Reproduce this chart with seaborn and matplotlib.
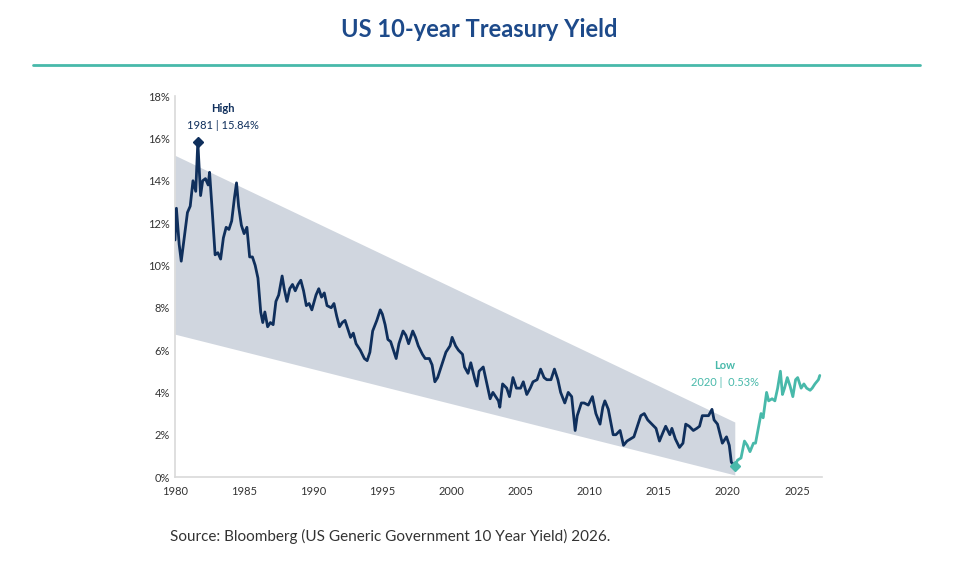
import numpy as np
import pandas as pd
import matplotlib
matplotlib.use("Agg")
import matplotlib.pyplot as plt
from matplotlib.lines import Line2D
import seaborn as sns

# Yield path (fractional year, percent)
years_hist = [1980.0, 1980.1, 1980.3, 1980.45, 1980.7, 1980.9, 1981.1, 1981.3, 1981.5, 1981.65, 1981.85,
              1982.0, 1982.2, 1982.4, 1982.5, 1982.7, 1982.9, 1983.1, 1983.3, 1983.5, 1983.7, 1983.9,
              1984.1, 1984.3, 1984.45, 1984.6, 1984.8, 1985.0, 1985.2, 1985.4, 1985.6, 1985.8, 1986.0,
              1986.2, 1986.35, 1986.5, 1986.7, 1986.9, 1987.1, 1987.3, 1987.5, 1987.75, 1987.9, 1988.1,
              1988.3, 1988.5, 1988.7, 1988.9, 1989.1, 1989.3, 1989.5, 1989.7, 1989.9, 1990.2, 1990.4,
              1990.6, 1990.8, 1991.0, 1991.3, 1991.5, 1991.7, 1991.9, 1992.1, 1992.3, 1992.5, 1992.7,
              1992.9, 1993.1, 1993.4, 1993.7, 1993.9, 1994.1, 1994.3, 1994.6, 1994.85, 1995.0, 1995.2,
              1995.4, 1995.6, 1995.8, 1996.0, 1996.2, 1996.5, 1996.7, 1996.9, 1997.2, 1997.4, 1997.6,
              1997.9, 1998.1, 1998.4, 1998.6, 1998.8, 1999.0, 1999.3, 1999.6, 1999.9, 2000.05, 2000.3,
              2000.5, 2000.8, 2000.95, 2001.2, 2001.4, 2001.7, 2001.85, 2002.0, 2002.3, 2002.6, 2002.8,
              2003.0, 2003.4, 2003.5, 2003.7, 2004.0, 2004.2, 2004.45, 2004.7, 2005.0, 2005.2, 2005.45,
              2005.7, 2005.9, 2006.2, 2006.45, 2006.7, 2006.9, 2007.2, 2007.45, 2007.7, 2007.9, 2008.2,
              2008.45, 2008.7, 2008.95, 2009.1, 2009.4, 2009.6, 2009.9, 2010.2, 2010.45, 2010.75, 2010.95,
              2011.1, 2011.35, 2011.7, 2011.9, 2012.2, 2012.45, 2012.7, 2012.95, 2013.2, 2013.5, 2013.7,
              2013.95, 2014.2, 2014.5, 2014.8, 2015.05, 2015.3, 2015.5, 2015.8, 2015.95, 2016.2, 2016.5,
              2016.75, 2016.95, 2017.2, 2017.5, 2017.75, 2017.95, 2018.15, 2018.4, 2018.6, 2018.85, 2019.0,
              2019.25, 2019.6, 2019.9, 2020.1, 2020.25, 2020.5]
yield_hist = [11.2, 12.7, 11.0, 10.2, 11.5, 12.5, 12.8, 14.0, 13.5, 15.84, 13.3,
              14.0, 14.1, 13.8, 14.4, 12.5, 10.5, 10.6, 10.3, 11.3, 11.8, 11.7,
              12.1, 13.2, 13.9, 12.8, 11.9, 11.5, 11.8, 10.4, 10.4, 10.0, 9.4,
              7.8, 7.3, 7.8, 7.1, 7.3, 7.2, 8.3, 8.6, 9.5, 8.9, 8.3,
              8.9, 9.1, 8.8, 9.1, 9.3, 8.8, 8.1, 8.2, 7.9, 8.6, 8.9,
              8.5, 8.7, 8.1, 8.0, 8.2, 7.6, 7.1, 7.3, 7.4, 7.0, 6.6,
              6.8, 6.3, 6.0, 5.6, 5.5, 5.9, 6.9, 7.4, 7.9, 7.7, 7.2,
              6.5, 6.4, 6.0, 5.6, 6.3, 6.9, 6.7, 6.3, 6.9, 6.6, 6.2,
              5.8, 5.6, 5.6, 5.3, 4.5, 4.7, 5.3, 5.9, 6.2, 6.6, 6.2,
              6.0, 5.8, 5.2, 4.9, 5.4, 4.6, 4.3, 5.0, 5.2, 4.3, 3.7,
              4.0, 3.6, 3.3, 4.4, 4.2, 3.8, 4.7, 4.2, 4.2, 4.5, 3.9,
              4.2, 4.5, 4.6, 5.1, 4.7, 4.6, 4.6, 5.1, 4.6, 4.0, 3.5,
              4.0, 3.8, 2.2, 2.9, 3.5, 3.5, 3.4, 3.8, 3.0, 2.5, 3.3,
              3.6, 3.2, 2.0, 2.0, 2.2, 1.5, 1.7, 1.8, 1.9, 2.5, 2.9,
              3.0, 2.7, 2.5, 2.3, 1.7, 2.1, 2.4, 2.0, 2.3, 1.8, 1.4,
              1.6, 2.5, 2.4, 2.2, 2.3, 2.4, 2.9, 2.9, 2.9, 3.2, 2.7,
              2.5, 1.6, 1.9, 1.5, 0.7, 0.53]

years_recent = [2020.5, 2020.7, 2020.95, 2021.2, 2021.4, 2021.6, 2021.85, 2022.0, 2022.2, 2022.4, 2022.55,
                2022.8, 2022.95, 2023.2, 2023.4, 2023.6, 2023.8, 2023.95, 2024.1, 2024.3, 2024.5, 2024.7,
                2024.9, 2025.05, 2025.3, 2025.5, 2025.7, 2025.95, 2026.1, 2026.3, 2026.55, 2026.65]
yield_recent = [0.53, 0.8, 0.9, 1.7, 1.5, 1.2, 1.6, 1.6, 2.3, 3.0, 2.8,
                4.0, 3.6, 3.7, 3.6, 4.2, 5.0, 3.9, 4.2, 4.7, 4.3, 3.8,
                4.6, 4.7, 4.2, 4.4, 4.2, 4.1, 4.2, 4.4, 4.6, 4.8]

# Declining channel (start/end of the shaded band)
band_x = [1980.0, 2020.5]
band_top = [15.2, 2.6]
band_bottom = [6.75, 0.1]

high_year, high_val = 1981.65, 15.84
low_year, low_val = 2020.5, 0.53

navy = "#0f2f5c"
teal = "#48b9aa"
title_blue = "#1d4a8a"

sns.set_theme(style="white")
plt.rcParams["font.family"] = ["Lato", "DejaVu Sans"]

hist = pd.DataFrame({"year": years_hist, "yield": yield_hist})
recent = pd.DataFrame({"year": years_recent, "yield": yield_recent})

fig = plt.figure(figsize=(9.59, 5.72), dpi=100)
ax = fig.add_axes([0.1825, 0.166, 0.6745, 0.666])

ax.fill_between(band_x, band_bottom, band_top, color="#d0d6df", lw=0, zorder=1)
sns.lineplot(data=hist, x="year", y="yield", ax=ax, color=navy, lw=2, zorder=3)
sns.lineplot(data=recent, x="year", y="yield", ax=ax, color=teal, lw=2, zorder=3)
ax.plot([high_year], [high_val], marker="D", ms=5, color=navy, zorder=4)
ax.plot([low_year], [low_val], marker="D", ms=5, color=teal, zorder=4)

ax.text(high_year + 1.8, 17.4, "High", ha="center", va="center", fontsize=8, fontweight="bold", color=navy)
ax.text(high_year + 1.8, 16.6, "1981 | 15.84%", ha="center", va="center", fontsize=8, color=navy)
ax.text(2019.8, 5.25, "Low", ha="center", va="center", fontsize=8, fontweight="bold", color=teal)
ax.text(2019.8, 4.45, "2020 |  0.53%", ha="center", va="center", fontsize=8, color=teal)

ax.set_xlim(1980, 2026.8)
ax.set_ylim(0, 18)
ax.set_xticks(range(1980, 2026, 5))
ax.set_yticks(range(0, 19, 2))
ax.set_yticklabels([f"{v}%" for v in range(0, 19, 2)])
ax.tick_params(labelsize=8, colors="#333333", length=3, color="#cccccc")
ax.tick_params(axis="y", length=0)
ax.set_xlabel("")
ax.set_ylabel("")
for s in ["top", "right"]:
    ax.spines[s].set_visible(False)
for s in ["left", "bottom"]:
    ax.spines[s].set_color("#d9d9d9")
    ax.spines[s].set_linewidth(1.2)

fig.text(0.5, 0.948, "US 10-year Treasury Yield", ha="center", va="center",
         fontsize=17, fontweight="bold", color=title_blue)
fig.add_artist(Line2D([0.034, 0.959], [0.886, 0.886], color=teal, lw=2))
fig.text(0.177, 0.062, "Source: Bloomberg (US Generic Government 10 Year Yield) 2026.",
         ha="left", va="center", fontsize=11, color="#333333")

fig.savefig("out.png", dpi=100)
